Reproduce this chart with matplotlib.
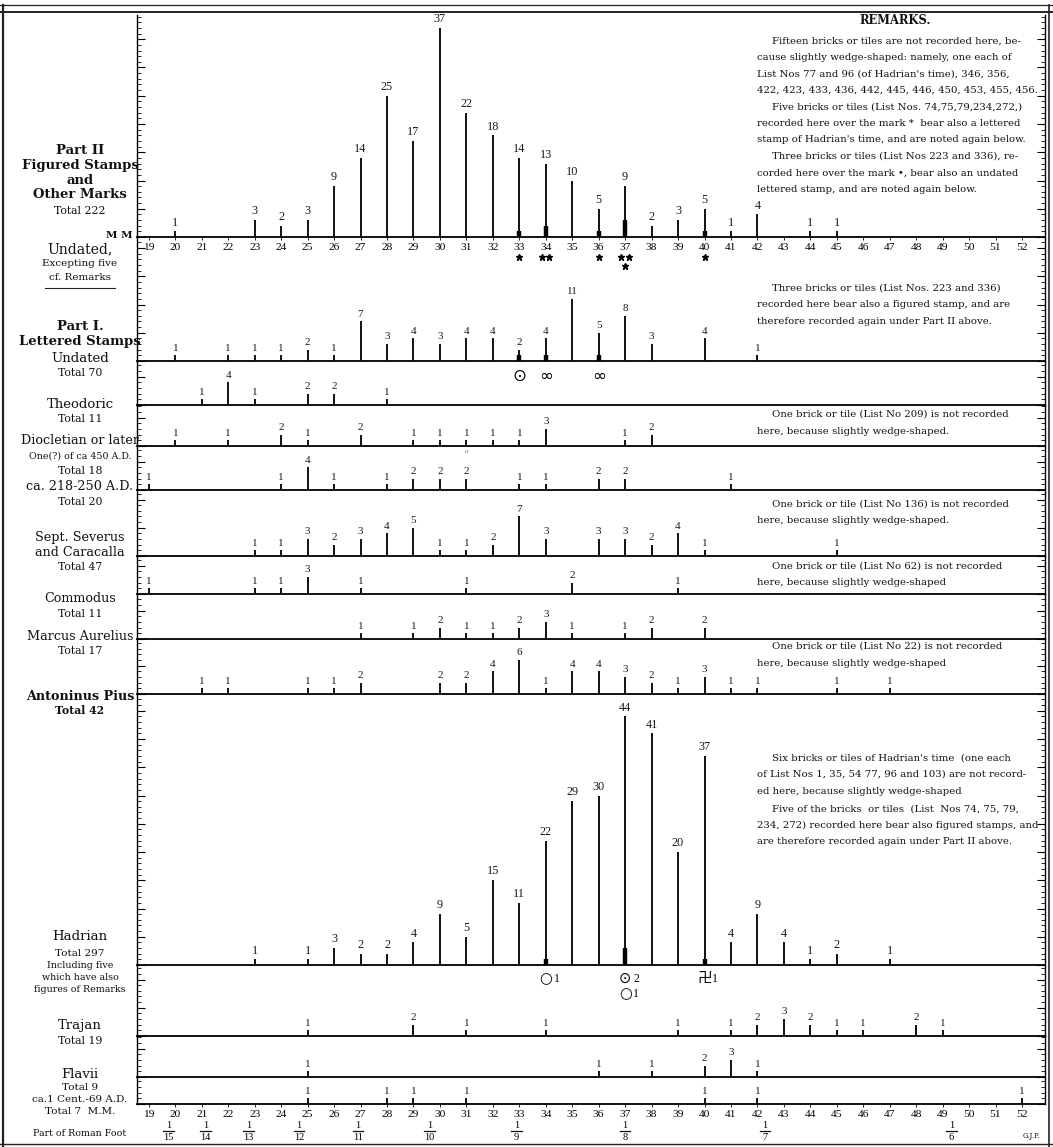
import matplotlib
matplotlib.use('Agg')
import matplotlib.pyplot as plt
from matplotlib.ticker import MultipleLocator
from matplotlib.lines import Line2D

SERIF = ['Liberation Serif', 'DejaVu Serif']
WIDE = ['DejaVu Serif', 'Liberation Serif']
SYM = ['DejaVu Sans', 'Noto Sans CJK SC']

# ---------------- data ----------------
# Part II figured stamps
p2_x = [20, 23, 24, 25, 26, 27, 28, 29, 30, 31, 32, 33, 34, 35, 36, 37, 38, 39, 40, 41, 42, 44, 45]
p2_v = [1, 3, 2, 3, 9, 14, 25, 17, 37, 22, 18, 14, 13, 10, 5, 9, 2, 3, 5, 1, 4, 1, 1]
p2_mark_x = [33, 34, 36, 37, 40]
p2_mark_n = [1, 2, 1, 3, 1]

und_x = [20, 22, 23, 24, 25, 26, 27, 28, 29, 30, 31, 32, 33, 34, 35, 36, 37, 38, 40, 42]
und_v = [1, 1, 1, 1, 2, 1, 7, 3, 4, 3, 4, 4, 2, 4, 11, 5, 8, 3, 4, 1]
und_mark_x = [33, 34, 36]
und_mark_n = [1, 1, 1]
und_sym = ['⊙', '∞', '∞']

theo_x = [21, 22, 23, 25, 26, 28]
theo_v = [1, 4, 1, 2, 2, 1]

dioc_x = [20, 22, 24, 25, 27, 29, 30, 31, 32, 33, 34, 37, 38]
dioc_v = [1, 1, 2, 1, 2, 1, 1, 1, 1, 1, 3, 1, 2]

c218_x = [19, 24, 25, 26, 28, 29, 30, 31, 33, 34, 36, 37, 41]
c218_v = [1, 1, 4, 1, 1, 2, 2, 2, 1, 1, 2, 2, 1]

sev_x = [23, 24, 25, 26, 27, 28, 29, 30, 31, 32, 33, 34, 36, 37, 38, 39, 40, 45]
sev_v = [1, 1, 3, 2, 3, 4, 5, 1, 1, 2, 7, 3, 3, 3, 2, 4, 1, 1]

com_x = [19, 23, 24, 25, 27, 31, 35, 39]
com_v = [1, 1, 1, 3, 1, 1, 2, 1]

mar_x = [27, 29, 30, 31, 32, 33, 34, 35, 37, 38, 40]
mar_v = [1, 1, 2, 1, 1, 2, 3, 1, 1, 2, 2]

ant_x = [21, 22, 25, 26, 27, 30, 31, 32, 33, 34, 35, 36, 37, 38, 39, 40, 41, 42, 45, 47]
ant_v = [1, 1, 1, 1, 2, 2, 2, 4, 6, 1, 4, 4, 3, 2, 1, 3, 1, 1, 1, 1]

had_x = [23, 25, 26, 27, 28, 29, 30, 31, 32, 33, 34, 35, 36, 37, 38, 39, 40, 41, 42, 43, 44, 45, 47]
had_v = [1, 1, 3, 2, 2, 4, 9, 5, 15, 11, 22, 29, 30, 44, 41, 20, 37, 4, 9, 4, 1, 2, 1]
had_mark_x = [34, 37, 40]
had_mark_n = [1, 3, 1]
had_sym_x = [34, 37, 37, 40]
had_sym = ['○', '⊙', '○', '卍']
had_sym_n = ['1', '2', '1', '1']
had_sym_row = [0, 0, 1, 0]

tra_x = [25, 29, 31, 34, 39, 41, 42, 43, 44, 45, 46, 48, 49]
tra_v = [1, 2, 1, 1, 1, 1, 2, 3, 2, 1, 1, 2, 1]

fla_x = [25, 36, 38, 40, 41, 42]
fla_v = [1, 1, 1, 2, 3, 1]

c1_x = [25, 28, 29, 31, 40, 42, 52]
c1_v = [1, 1, 1, 1, 1, 1, 1]

mm_ticks = list(range(19, 53))
foot_denoms = [15, 14, 13, 12, 11, 10, 9, 8, 7, 6]
ROMAN_FOOT_MM = 296

# ---------------- layout ----------------
W, H = 1053, 1147
fig = plt.figure(figsize=(W / 100, H / 100), dpi=100)
fig.patch.set_facecolor('white')
AX_L, AX_R = 137, 1045
X0 = 18.55
X1 = 52.87
PX_PER_UNIT = 5.65

panels = [
    # x, v, top px, baseline px
    (p2_x, p2_v, 15, 237),
    (und_x, und_v, 237, 361),
    (theo_x, theo_v, 361, 405),
    (dioc_x, dioc_v, 405, 446),
    (c218_x, c218_v, 446, 490),
    (sev_x, sev_v, 490, 556),
    (com_x, com_v, 556, 594),
    (mar_x, mar_v, 594, 639),
    (ant_x, ant_v, 639, 694),
    (had_x, had_v, 694, 965),
    (tra_x, tra_v, 965, 1036),
    (fla_x, fla_v, 1036, 1077),
    (c1_x, c1_v, 1077, 1104),
]

axes = []
for i, (xs, vs, top, base) in enumerate(panels):
    ax = fig.add_axes([AX_L / W, 1 - base / H, (AX_R - AX_L) / W, (base - top) / H])
    ax.set_facecolor('none')
    ax.set_xlim(X0, X1)
    ax.set_ylim(0, (base - top) / PX_PER_UNIT)
    ax.vlines(xs, 0, vs, color='#111111', lw=1.4, zorder=3)
    big = max(vs) >= 20
    for x, v in zip(xs, vs):
        ax.annotate(str(v), (x, v), xytext=(0, 2), textcoords='offset points',
                    ha='center', va='bottom', fontsize=8.8 if big else 8,
                    family=SERIF, color='#1a1a1a', annotation_clip=False)
    ax.spines['top'].set_visible(False)
    ax.spines['bottom'].set_linewidth(1.3)
    ax.spines['left'].set_linewidth(1.0)
    ax.spines['right'].set_linewidth(1.0)
    ax.yaxis.set_major_locator(MultipleLocator(5))
    ax.yaxis.set_minor_locator(MultipleLocator(1))
    ax.yaxis.set_ticks_position('both')
    ax.tick_params(axis='y', which='major', direction='in', length=6, width=0.8,
                   labelleft=False, labelright=False)
    ax.tick_params(axis='y', which='minor', direction='in', length=3, width=0.6)
    ax.set_xticks([])
    axes.append(ax)

# axis tick labels (mm) under Part II and at the bottom
for ax in (axes[0], axes[-1]):
    ax.set_xticks(mm_ticks)
    ax.set_xticklabels([str(t) for t in mm_ticks], family=SERIF, fontsize=8.2)
    ax.tick_params(axis='x', length=2, width=0.6, pad=2, direction='out')

# marks: thick bases and star marks in Part II
ax = axes[0]
ax.vlines(p2_mark_x, 0, p2_mark_n, color='#000000', lw=3.2, zorder=4)
for x, n in zip(p2_mark_x, p2_mark_n):
    row1 = min(n, 2)
    offs = [0] if row1 == 1 else [-0.14, 0.14]
    for o in offs:
        ax.plot(x + o, -3.5, marker='*', ms=4.5, color='black', clip_on=False)
    if n > 2:
        ax.plot(x, -5.1, marker='*', ms=4.5, color='black', clip_on=False)

ax = axes[1]
ax.vlines(und_mark_x, 0, und_mark_n, color='#000000', lw=3.2, zorder=4)
for x, s in zip(und_mark_x, und_sym):
    ax.text(x, -2.6, s, ha='center', va='center', fontsize=12, family=SYM, clip_on=False)

ax = axes[3]
ax.text(31, -1.0, 'o', ha='center', va='center', fontsize=5, family=SERIF, color='#666666', clip_on=False)

ax = axes[9]
ax.vlines(had_mark_x, 0, had_mark_n, color='#000000', lw=3.2, zorder=4)
for x, s, n, r in zip(had_sym_x, had_sym, had_sym_n, had_sym_row):
    y = -2.4 - 2.7 * r
    ax.text(x, y, s, ha='center', va='center', fontsize=10.5, family=SYM, clip_on=False)
    ax.text(x + 0.3, y, n, ha='left', va='center', fontsize=8.5, family=SERIF, clip_on=False)

# Roman foot fractions
axb = axes[-1]
for d in foot_denoms:
    xf = ROMAN_FOOT_MM / d
    axb.text(xf, -3.75, '1', ha='center', va='center', fontsize=7.5, family=SERIF, clip_on=False)
    axb.plot([xf - 0.2, xf + 0.2], [-4.8, -4.8], color='#111111', lw=0.9, clip_on=False)
    axb.text(xf, -6.0, str(d), ha='center', va='center', fontsize=7.5, family=SERIF, clip_on=False)


# ---------------- text ----------------
def ftext(x, y, s, size=9, weight='normal', ha='center', fam=WIDE, **kw):
    fig.text(x / W, 1 - y / H, s, ha=ha, va='center', fontsize=size,
             fontweight=weight, family=fam, color='#111111', **kw)


left_labels = [
    ('Part II', 150, 9.5, 'bold'), ('Figured Stamps', 166, 9.5, 'bold'), ('and', 180, 9.5, 'bold'),
    ('Other Marks', 195, 9.5, 'bold'), ('Total 222', 211, 7.8, 'normal'),
    ('Undated,', 249, 10, 'normal'), ('Excepting five', 264, 7.5, 'normal'),
    ('cf. Remarks', 278, 7.5, 'normal'),
    ('Part I.', 326, 9.5, 'bold'), ('Lettered Stamps', 342, 9.5, 'bold'),
    ('Undated', 358, 9.5, 'normal'), ('Total 70', 373, 7.8, 'normal'),
    ('Theodoric', 404, 9.5, 'normal'), ('Total 11', 419, 7.8, 'normal'),
    ('Diocletian or later', 441, 9.2, 'normal'), ('One(?) of ca 450 A.D.', 456, 6.8, 'normal'),
    ('Total 18', 471, 7.8, 'normal'), ('ca. 218-250 A.D.', 487, 9.2, 'normal'),
    ('Total 20', 502, 7.8, 'normal'),
    ('Sept. Severus', 538, 9.2, 'normal'), ('and Caracalla', 553, 9.2, 'normal'),
    ('Total 47', 567, 7.8, 'normal'),
    ('Commodus', 598, 9.2, 'normal'), ('Total 11', 614, 7.8, 'normal'),
    ('Marcus Aurelius', 637, 9.2, 'normal'), ('Total 17', 651, 7.8, 'normal'),
    ('Antoninus Pius', 696, 9.2, 'bold'), ('Total 42', 710, 7.8, 'bold'),
    ('Hadrian', 937, 9.5, 'normal'), ('Total 297', 953, 7.5, 'normal'),
    ('Including five', 966, 6.8, 'normal'), ('which have also', 978, 6.8, 'normal'),
    ('figures of Remarks', 990, 6.8, 'normal'),
    ('Trajan', 1025, 9.5, 'normal'), ('Total 19', 1041, 7.8, 'normal'),
    ('Flavii', 1074, 9.5, 'normal'), ('Total 9', 1087, 7.5, 'normal'),
    ('ca.1 Cent.-69 A.D.', 1099, 7.5, 'normal'), ('Total 7  M.M.', 1111, 7.5, 'normal'),
    ('Part of Roman Foot', 1134, 6.8, 'normal'),
]
for s, y, sz, wt in left_labels:
    ftext(80, y, s, sz, wt)
ftext(133, 236, 'M M', 7.5, 'bold', ha='right')
fig.add_artist(Line2D([45 / W, 115 / W], [1 - 288 / H, 1 - 288 / H], color='#222222', lw=0.8))

ftext(1040, 1136, 'G.J.P.', 5, 'normal', ha='right')

# remarks blocks: (lines, first y, line height)
remarks = [
    ([('Fifteen bricks or tiles are not recorded here, be-', True),
      ('cause slightly wedge-shaped: namely, one each of', False),
      ("List Nos 77 and 96 (of Hadrian's time), 346, 356,", False),
      ('422, 423, 433, 436, 442, 445, 446, 450, 453, 455, 456.', False),
      ('Five bricks or tiles (List Nos. 74,75,79,234,272,)', True),
      ('recorded here over the mark *  bear also a lettered', False),
      ("stamp of Hadrian's time, and are noted again below.", False),
      ('Three bricks or tiles (List Nos 223 and 336), re-', True),
      ('corded here over the mark \u2022, bear also an undated', False),
      ('lettered stamp, and are noted again below.', False)], 41, 16.5),
    ([('Three bricks or tiles (List Nos. 223 and 336)', True),
      ('recorded here bear also a figured stamp, and are', False),
      ('therefore recorded again under Part II above.', False)], 288, 17),
    ([('One brick or tile (List No 209) is not recorded', True),
      ('here, because slightly wedge-shaped.', False)], 414, 17),
    ([('One brick or tile (List No 136) is not recorded', True),
      ('here, because slightly wedge-shaped.', False)], 504, 17),
    ([('One brick or tile (List No 62) is not recorded', True),
      ('here, because slightly wedge-shaped', False)], 566, 17),
    ([('One brick or tile (List No 22) is not recorded', True),
      ('here, because slightly wedge-shaped', False)], 646, 17),
    ([("Six bricks or tiles of Hadrian's time  (one each", True),
      ('of List Nos 1, 35, 54 77, 96 and 103) are not record-', False),
      ('ed here, because slightly wedge-shaped', False)], 758, 16.5),
    ([('Five of the bricks  or tiles  (List  Nos 74, 75, 79,', True),
      ('234, 272) recorded here bear also figured stamps, and', False),
      ('are therefore recorded again under Part II above.', False)], 809, 16.5),
]
ftext(895, 20, 'REMARKS.', 8.3, 'bold')
for lines, y0, lh in remarks:
    for k, (s, indent) in enumerate(lines):
        ftext(772 if indent else 757, y0 + k * lh, s, 7.3, 'normal', ha='left')

# frame lines
for y in (5, 12):
    fig.add_artist(Line2D([0, 1], [1 - y / H, 1 - y / H], color='#222222', lw=1.4 if y == 12 else 0.9))
fig.add_artist(Line2D([3 / W, 3 / W], [0, 1 - 5 / H], color='#222222', lw=1.6))
fig.add_artist(Line2D([1049 / W, 1049 / W], [0, 1 - 5 / H], color='#222222', lw=1.2))
fig.add_artist(Line2D([0, 1], [1 - 1144 / H, 1 - 1144 / H], color='#222222', lw=1.0))

fig.savefig('out.png', dpi=100, facecolor='white')
